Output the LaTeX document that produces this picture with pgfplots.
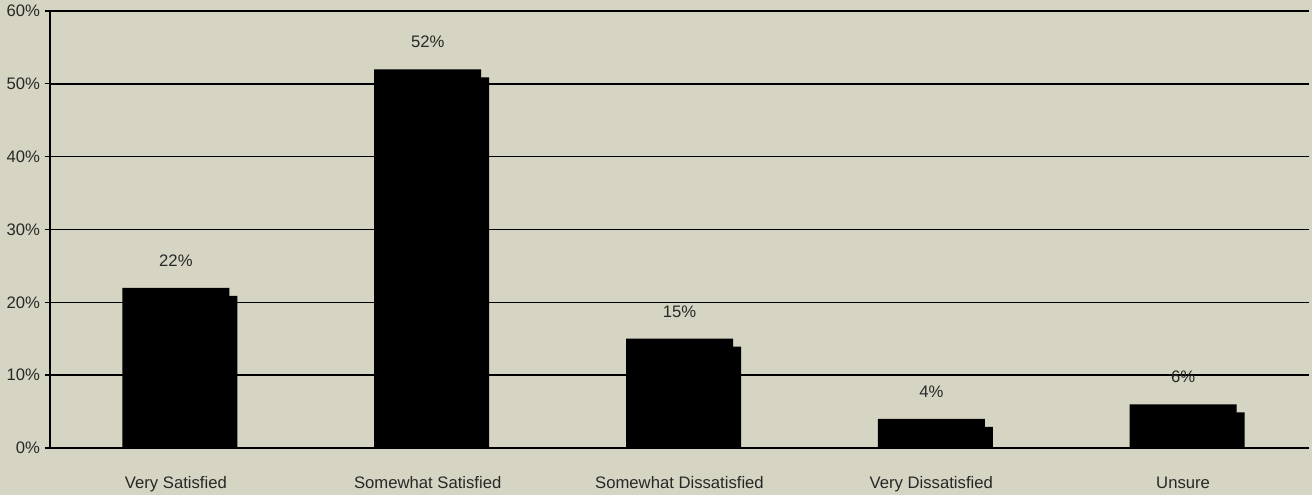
\documentclass[border=0pt]{standalone}
\usepackage{fontspec}
\setmainfont{Liberation Sans}
\usepackage{pgfplots}
\pgfplotsset{compat=1.18}
\definecolor{paper}{RGB}{214,212,194}
\definecolor{ink}{RGB}{40,40,40}
\begin{document}
\begin{tikzpicture}
% page background
\path[use as bounding box, fill=paper] (-37.5pt,-35.25pt) rectangle (946.5pt,336pt);
\begin{axis}[
  scale only axis,
  width=944.25pt, height=327.75pt,
  xmin=-0.5, xmax=4.5,
  ymin=0, ymax=60,
  axis x line*=bottom, axis y line*=left,
  axis line style={black, line width=1.2pt, -},
  xtick={0,1,2,3,4},
  xticklabels={Very Satisfied, Somewhat Satisfied, Somewhat Dissatisfied, Very Dissatisfied, Unsure},
  major x tick style={draw=none},
  extra x ticks={-0.5,0.5,1.5,2.5,3.5,4.5},
  extra x tick labels={},
  extra x tick style={tick style={black, line width=1pt}, major tick length=5pt, tick align=outside, grid=none},
  ytick={0,10,...,60},
  yticklabel={\pgfmathprintnumber{\tick}\%},
  ymajorgrids,
  grid style={black, line width=1.2pt},
  tick align=outside,
  major tick length=4pt,
  ytick style={black, line width=1pt},
  ticklabel style={font=\fontsize{12.5}{15}\selectfont, text=ink},
  yticklabel style={/pgf/number format/assume math mode=true},
  xticklabel style={yshift=-14pt},
  ybar, bar width=80.25pt,
  clip=true,
]
% drop shadow behind each bar
\addplot[fill=black, draw=none, xshift=6pt, yshift=-6pt, forget plot]
  coordinates {(0,22) (1,52) (2,15) (3,4) (4,6)};
% bars with their values
\addplot[fill=black, draw=none,
  nodes near coords={\pgfmathprintnumber{\pgfplotspointmeta}\%},
  every node near coord/.append style={font=\fontsize{12.5}{15}\selectfont, text=ink, yshift=12.5pt, /pgf/number format/assume math mode=true}]
  coordinates {(0,22) (1,52) (2,15) (3,4) (4,6)};
\end{axis}
\end{tikzpicture}
\end{document}
